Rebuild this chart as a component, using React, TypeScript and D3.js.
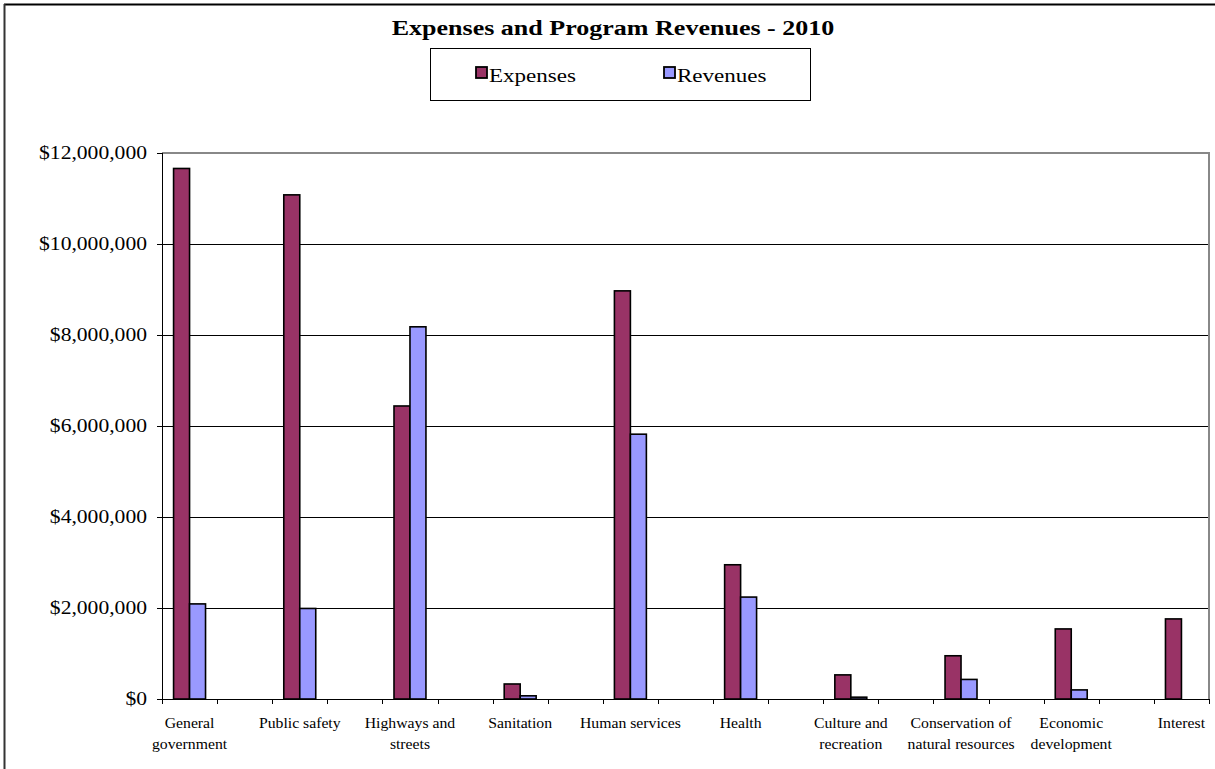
import React from "react";
import * as d3 from "d3";

const categories = [
  "General government",
  "Public safety",
  "Highways and streets",
  "Sanitation",
  "Human services",
  "Health",
  "Culture and recreation",
  "Conservation of natural resources",
  "Economic development",
  "Interest",
];
const labelLines = [
  ["General", "government"],
  ["Public safety"],
  ["Highways and", "streets"],
  ["Sanitation"],
  ["Human services"],
  ["Health"],
  ["Culture and", "recreation"],
  ["Conservation of", "natural resources"],
  ["Economic", "development"],
  ["Interest"],
];
const expenses = [11660000, 11080000, 6440000, 330000, 8970000, 2950000, 530000, 950000, 1540000, 1760000];
const revenues = [2090000, 1990000, 8180000, 70000, 5820000, 2240000, 40000, 430000, 200000, 0];
const yTicks = [0, 2000000, 4000000, 6000000, 8000000, 10000000, 12000000];
const seriesNames = ["Expenses", "Revenues"];
const colors = ["#993366", "#9999FF"];

const W = 1215;
const H = 769;
const FONT = "'Liberation Serif', 'Times New Roman', serif";

function SText({ x, y, sx, anchor, size, weight, children }: any) {
  return (
    <text
      transform={`translate(${x},${y}) scale(${sx},1)`}
      textAnchor={anchor || "start"}
      fontSize={size}
      fontWeight={weight || "normal"}
      fill="#000"
    >
      {children}
    </text>
  );
}

export default function App() {
  const left = 162, right = 1209, top = 153, bottom = 699;
  const slots = d3.range(categories.length * 2 - 1);
  const x = d3.scaleBand<number>().domain(slots).range([left, right]).padding(0);
  const y = d3.scaleLinear().domain([0, 12000000]).range([bottom, top]);
  const bw = x.bandwidth() * 0.29;
  const fmt = (v: number) => "$" + d3.format(",")(v);
  const boundaries = d3.range(slots.length + 1).map((i) => left + i * x.bandwidth());

  return (
    <svg width={W} height={H} style={{ position: "absolute", left: 0, top: 0, background: "#fff" }} fontFamily={FONT}>
      <rect x={0} y={0} width={W} height={H} fill="#fff" />
      {/* outer chart border */}
      <line x1={4} y1={4.5} x2={W} y2={4.5} stroke="#000" strokeWidth={2} />
      <line x1={4.5} y1={4} x2={4.5} y2={H} stroke="#333" strokeWidth={2} />

      {/* title */}
      <SText x={613} y={35} sx={1.24} anchor="middle" size={21} weight="bold">
        Expenses and Program Revenues - 2010
      </SText>

      {/* legend */}
      <rect x={430.5} y={48.5} width={380} height={52} fill="#fff" stroke="#000" strokeWidth={1} />
      {seriesNames.map((s, i) => {
        const lx = i === 0 ? 476 : 664;
        return (
          <g key={s}>
            <rect x={lx} y={67} width={11} height={11} fill={colors[i]} stroke="#000" strokeWidth={1.8} />
            <SText x={lx + 13} y={82} sx={1.28} size={18}>{s}</SText>
          </g>
        );
      })}

      {/* gridlines */}
      {yTicks.filter((t) => t > 0 && t < 12000000).map((t) => (
        <line key={t} x1={left} x2={right} y1={Math.round(y(t)) + 0.5} y2={Math.round(y(t)) + 0.5} stroke="#000" strokeWidth={1} />
      ))}
      {/* plot border top/right */}
      <line x1={left} x2={right + 1} y1={top} y2={top} stroke="#888" strokeWidth={2} />
      <line x1={right} x2={right} y1={top} y2={bottom} stroke="#888" strokeWidth={2} />

      {/* bars */}
      {categories.map((c, i) => {
        const cx = (x(i * 2) as number) + x.bandwidth() / 2;
        return (
          <g key={c}>
            {[expenses[i], revenues[i]].map((v, j) =>
              v > 0 ? (
                <rect
                  key={j}
                  x={cx - bw + j * bw}
                  y={y(v)}
                  width={bw}
                  height={bottom - y(v)}
                  fill={colors[j]}
                  stroke="#000"
                  strokeWidth={1.6}
                />
              ) : null
            )}
          </g>
        );
      })}

      {/* y axis */}
      <line x1={left + 0.5} x2={left + 0.5} y1={top} y2={bottom} stroke="#000" strokeWidth={1} />
      {yTicks.map((t) => (
        <g key={t}>
          <line x1={left - 5} x2={left} y1={Math.round(y(t)) + 0.5} y2={Math.round(y(t)) + 0.5} stroke="#000" />
          <SText x={147} y={y(t) + 6} sx={1.2} anchor="end" size={18}>{fmt(t)}</SText>
        </g>
      ))}

      {/* x axis */}
      <line x1={left} x2={right} y1={bottom + 0.5} y2={bottom + 0.5} stroke="#000" strokeWidth={1} />
      {boundaries.map((bx, i) => (
        <line key={i} x1={Math.round(bx) + 0.5} x2={Math.round(bx) + 0.5} y1={bottom} y2={bottom + 5} stroke="#000" />
      ))}
      {categories.map((c, i) => {
        const cx = (x(i * 2) as number) + x.bandwidth() / 2;
        return (
          <g key={c}>
            {labelLines[i].map((l, k) => (
              <SText key={k} x={cx} y={728 + k * 21} sx={1.05} anchor="middle" size={15}>{l}</SText>
            ))}
          </g>
        );
      })}
    </svg>
  );
}
